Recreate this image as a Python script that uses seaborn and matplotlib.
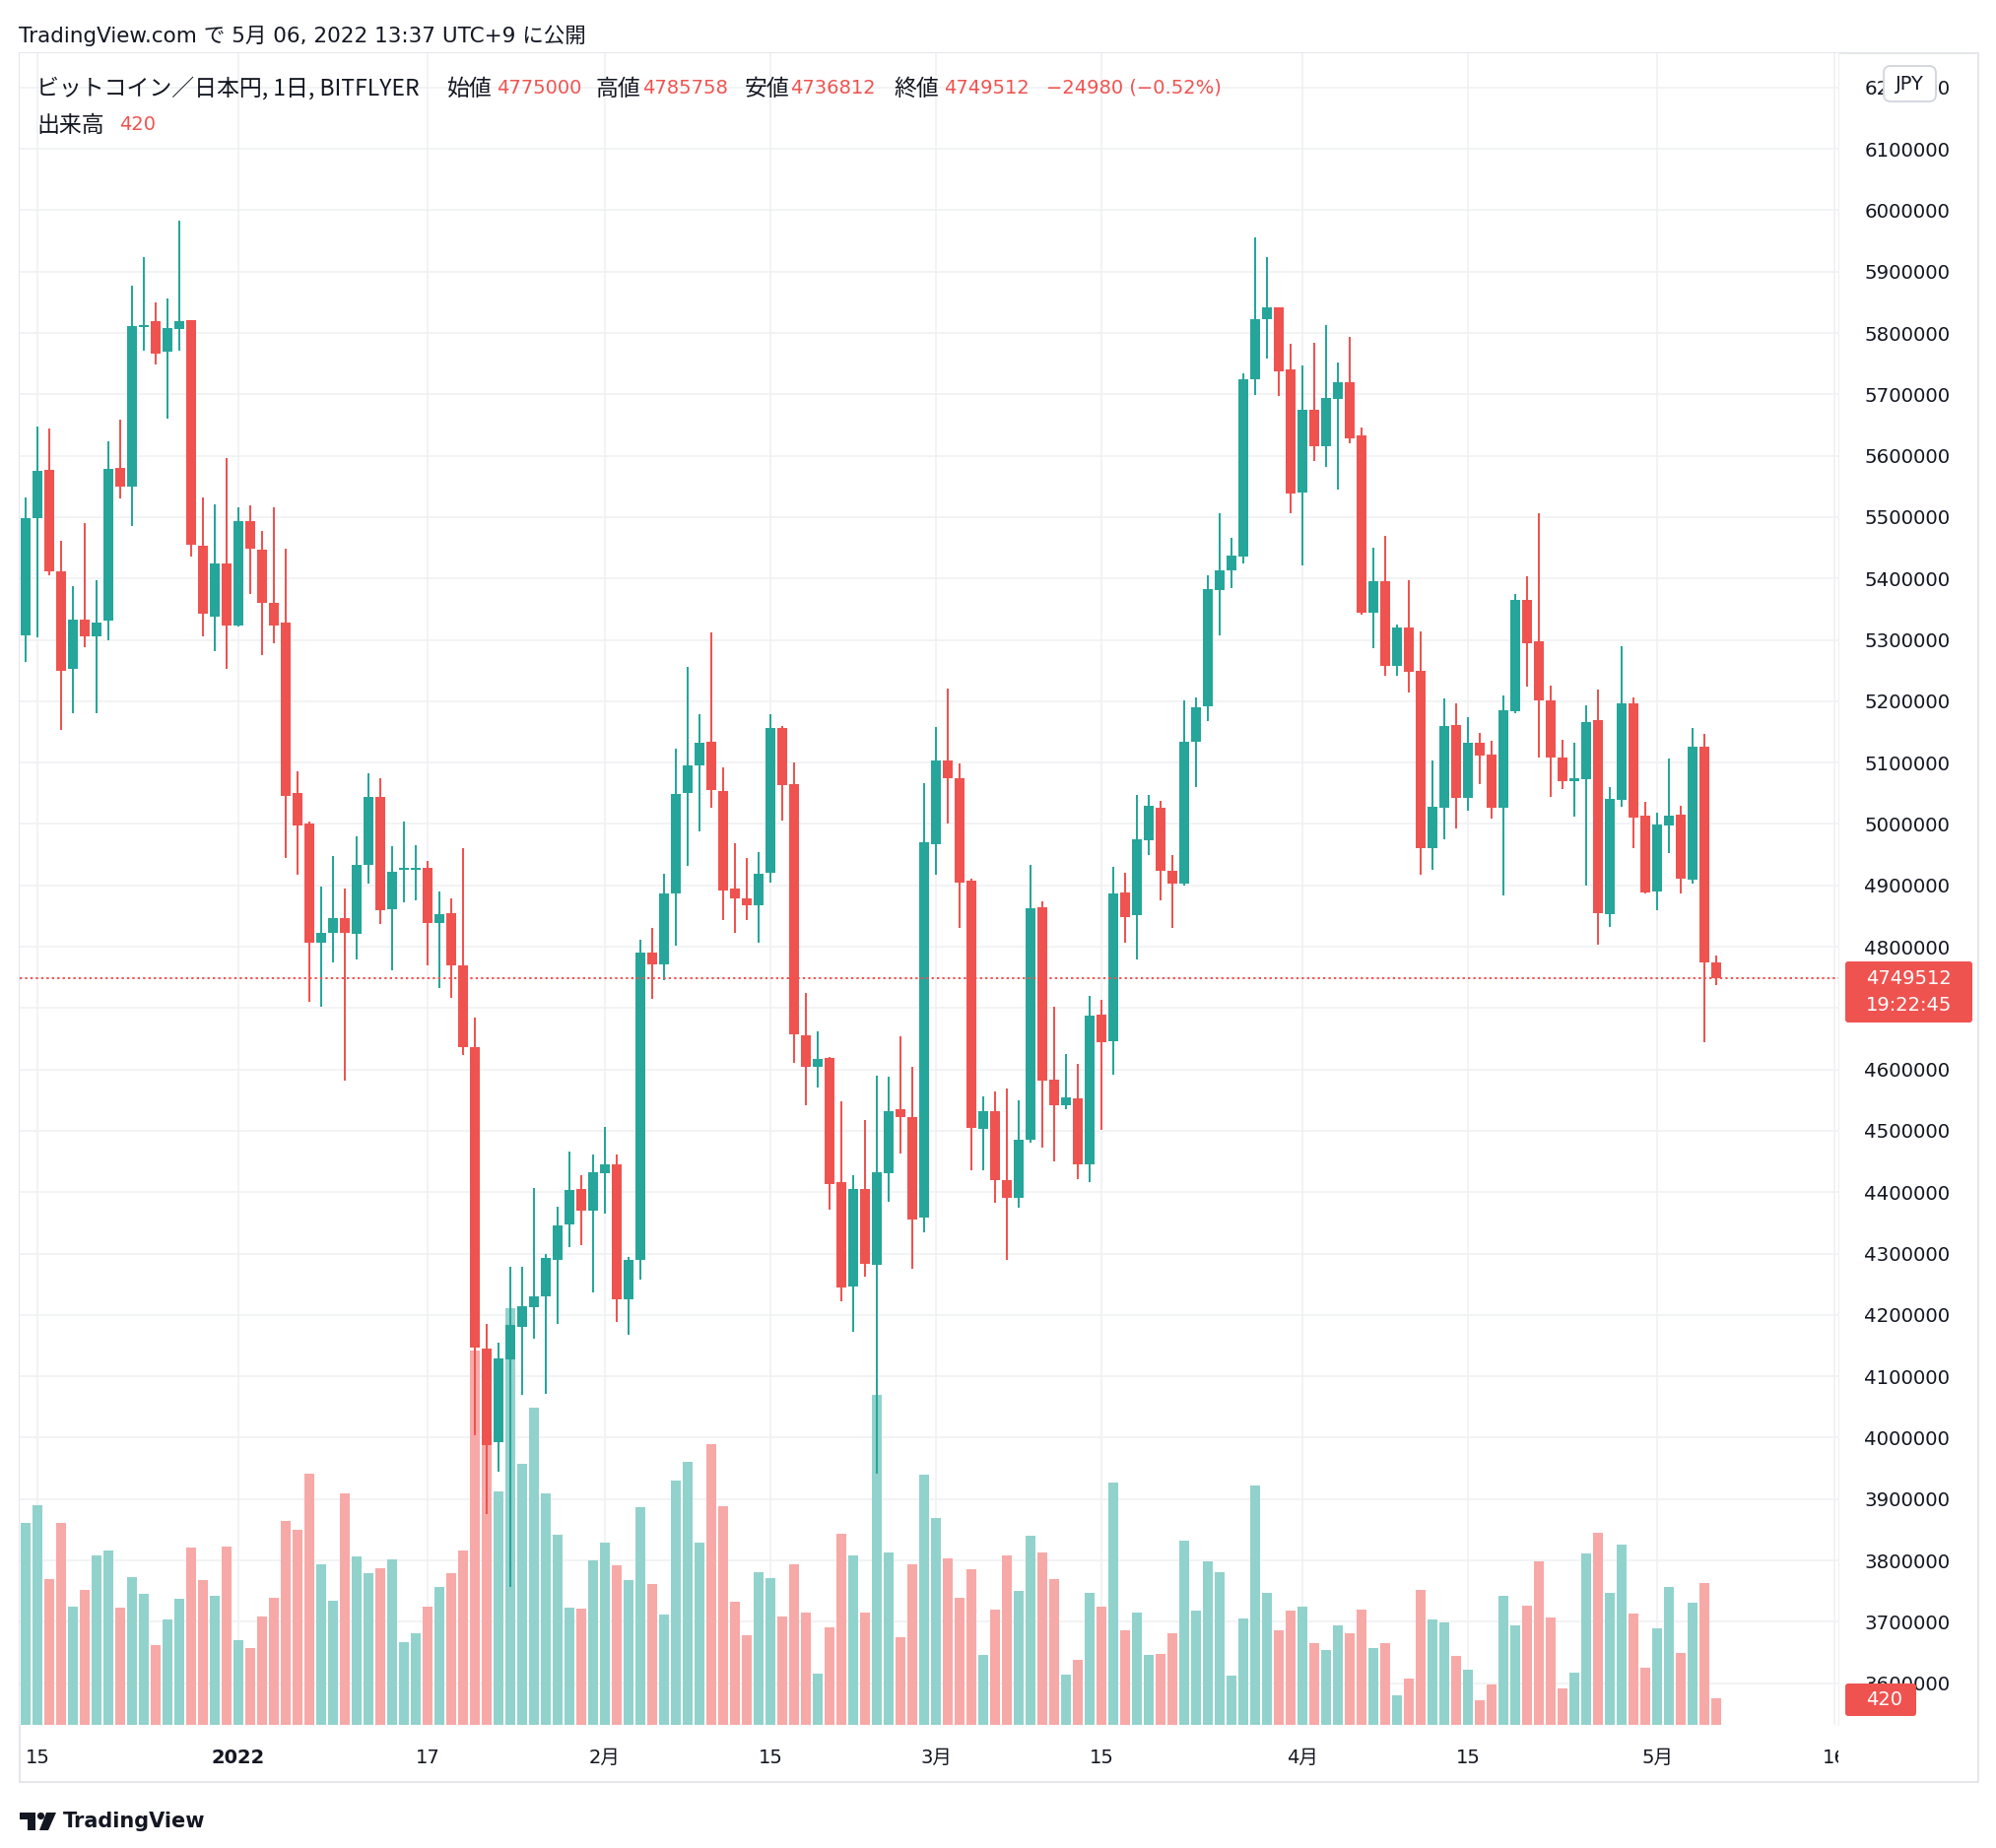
import numpy as np
import pandas as pd
import matplotlib
matplotlib.use("Agg")
import matplotlib.pyplot as plt
import seaborn as sns
from matplotlib.patches import FancyBboxPatch, Rectangle, Polygon, Circle
from matplotlib.transforms import Bbox, IdentityTransform, blended_transform_factory
from matplotlib.lines import Line2D

# ---------------- data (bitFlyer BTC/JPY daily, values in thousand JPY) ----------------
dates = pd.date_range("2021-12-14", "2022-05-06", freq="D")

open_k = [5308,5498,5577,5411,5252,5333,5305,5331,5580,5550,5810,5819,5769,5807,5821,5454,5338,5424,
          5324,5493,5447,5361,5328,5050,5000,4806,4822,4847,4821,4933,5044,4861,4925,4925,4929,4838,4855,4770,
          4637,4145,3992,4128,4181,4213,4230,4290,4347,4405,4370,
          4431,4445,4226,4289,4791,4772,4887,5050,5095,5134,5054,4894,4879,4868,4920,5157,5065,4656,4605,4619,
          4416,4247,4405,4282,4431,4535,4522,4359,
          4967,5104,5075,4908,4503,4532,4420,4391,4486,4864,4583,4542,4553,4446,4690,4646,4888,4852,4974,5026,
          4923,4903,5134,5191,5381,5413,5435,5724,5822,5842,5741,
          5540,5675,5616,5693,5720,5633,5344,5395,5258,5320,5249,4961,5027,5161,5042,5133,5113,5026,5184,5365,
          5297,5202,5109,5070,5073,5169,4853,5039,5196,5013,
          4890,4997,5015,4909,5126,4775.000]
high_k = [5532,5647,5644,5461,5387,5490,5397,5623,5659,5877,5923,5850,5856,5983,5821,5532,5521,5596,
          5516,5520,5477,5516,5448,5086,5004,4898,4947,4895,4980,5083,5075,4964,5004,4966,4940,4890,4879,4961,
          4684,4185,4155,4278,4278,4407,4299,4377,4466,4428,4461,
          4506,4461,4295,4812,4831,4919,5122,5256,5179,5312,5093,4968,4945,4954,5179,5159,5100,4724,4662,4620,
          4548,4428,4518,4590,4588,4654,4604,5066,
          5158,5220,5098,4911,4556,4564,4569,4549,4933,4874,4702,4625,4609,4720,4713,4930,4920,5047,5047,5037,
          4949,5201,5206,5405,5507,5466,5735,5956,5923,5842,5783,
          5747,5784,5813,5752,5794,5646,5450,5469,5325,5397,5314,5104,5204,5197,5174,5149,5135,5209,5375,5404,
          5506,5225,5137,5132,5193,5219,5060,5289,5207,5036,
          5019,5106,5029,5156,5147,4785.758]
low_k = [5264,5304,5406,5153,5181,5288,5181,5300,5531,5485,5772,5749,5660,5771,5435,5305,5281,5253,
         5322,5375,5276,5295,4944,4918,4711,4702,4774,4581,4780,4903,4837,4761,4872,4875,4770,4733,4716,4624,
         4004,3875,3944,3756,4070,4162,4072,4185,4310,4314,4236,
         4365,4189,4168,4258,4715,4746,4801,4932,4988,5026,4843,4823,4843,4806,4904,5005,4610,4541,4570,4372,
         4223,4172,4263,3942,4384,4463,4275,4334,
         4918,5000,4831,4435,4436,4383,4290,4374,4480,4473,4450,4536,4421,4417,4502,4592,4807,4780,4949,4876,
         4830,4899,5060,5168,5308,5385,5424,5699,5759,5697,5506,
         5421,5592,5582,5545,5620,5341,5287,5241,5241,5214,4917,4925,4975,4992,5021,5065,5008,4884,5181,5224,
         5109,5044,5057,5012,4900,4803,4832,5028,4961,4886,
         4859,4952,4887,4903,4644,4736.812]
close_k = [5498,5575,5411,5250,5333,5305,5328,5579,5550,5811,5813,5767,5808,5819,5455,5342,5424,5324,
           5493,5448,5361,5324,5046,4998,4806,4822,4847,4822,4933,5044,4860,4922,4927,4929,4838,4853,4769,4637,
           4146,3988,4129,4184,4214,4230,4293,4346,4403,4370,4432,
           4445,4225,4290,4791,4772,4886,5049,5095,5132,5055,4891,4878,4867,4919,5157,5064,4658,4605,4617,4414,
           4244,4405,4284,4432,4532,4523,4356,4970,
           5104,5074,4905,4504,4532,4420,4391,4485,4862,4582,4542,4555,4446,4688,4645,4887,4849,4975,5030,4923,
           4903,5134,5190,5382,5414,5437,5724,5823,5842,5738,5539,
           5675,5616,5694,5720,5629,5344,5395,5258,5320,5248,4961,5028,5160,5042,5133,5111,5026,5185,5365,5294,
           5201,5108,5070,5074,5166,4855,5041,5196,5011,4889,
           4999,5013,4911,5126,4774,4749.512]
volume = [3189,3469,2302,3189,1867,2131,2675,2753,1851,2333,2069,1260,1664,1991,2800,2287,2038,2815,
          1338,1213,1711,2007,3220,3080,3967,2535,1960,3655,2660,2395,2473,2613,1307,1447,1867,2178,2395,2753,
          5911,5444,3687,6580,4122,5009,3655,3002,1851,1835,2598,
          2878,2520,2287,3438,2224,1742,3858,4153,2878,4433,3453,1944,1416,2411,2318,1711,2535,1773,809,1540,
          3018,2675,1773,5211,2722,1384,2535,3951,
          3267,2629,2007,2458,1104,1820,2675,2115,2987,2722,2302,793,1027,2084,1867,3827,1493,1773,1104,1120,
          1447,2909,1804,2582,2411,778,1680,3780,2084,1493,1804,
          1867,1291,1182,1571,1447,1820,1213,1291,467,731,2131,1664,1618,1089,871,389,638,2038,1571,1882,
          2582,1695,576,824,2707,3033,2084,2847,1758,902,
          1524,2178,1136,1929,2240,420]

xtick_dates = ["2021-12-15", "2022-01-01", "2022-01-17", "2022-02-01", "2022-02-15", "2022-03-01",
               "2022-03-15", "2022-04-01", "2022-04-15", "2022-05-01", "2022-05-16"]
xtick_labels = ["15", "2022", "17", "2月", "15", "3月", "15", "4月", "15", "5月", "16"]
price_ticks = list(range(3600000, 6300000, 100000))
last_price = 4749512
last_volume = 420
countdown = "19:22:45"

# ---------------- style ----------------
sns.set_theme(style="white")
plt.rcParams["font.family"] = ["DejaVu Sans", "Noto Sans CJK JP"]
CJK = ["Noto Sans CJK JP", "DejaVu Sans"]

UP = "#26a69a"
DOWN = "#ef5350"
UP_VOL = "#92d2cc"
DOWN_VOL = "#f7a9a7"
TXT = "#131722"
GRID = "#eff0f2"

W, H = 2026, 1876
fig = plt.figure(figsize=(W / 100, H / 100), dpi=100)
fig.patch.set_facecolor("white")
PX = IdentityTransform()


def Y(y):
    return H - y


# plot rectangle in pixels (top-based)
PL, PR, PT, PB = 20, 1866, 54, 1751
rect = [PL / W, 1 - PB / H, (PR - PL) / W, (PB - PT) / H]

o = np.array(open_k) * 1000
h = np.array(high_k) * 1000
l = np.array(low_k) * 1000
c = np.array(close_k) * 1000
day = (dates - dates[0]).days.values
up = c >= o
tick_pos = (pd.to_datetime(xtick_dates) - dates[0]).days.values

XLIM = (-0.5, 153.33)
YLIM = (3532000, 6256000)

# volume axes (bottom layer, also carries the grid)
axv = fig.add_axes(rect)
axv.set_zorder(1)
ax = fig.add_axes(rect)
ax.set_zorder(2)
ax.patch.set_visible(False)
ax.set_xlim(*XLIM)
ax.set_ylim(*YLIM)

vol_df = pd.DataFrame({"day": day, "volume": volume, "dir": np.where(up, "up", "down")})
sns.barplot(data=vol_df, x="day", y="volume", hue="dir", native_scale=True, dodge=False,
            palette={"up": UP_VOL, "down": DOWN_VOL}, width=0.8, saturation=1, errorbar=None,
            linewidth=0, legend=False, ax=axv, zorder=3)
axv.set_xlim(*XLIM)
axv.set_ylim(0, 26400)
axv.set_xlabel("")
axv.set_ylabel("")
axv.set_xticks([])
axv.set_yticks([])
for s in axv.spines.values():
    s.set_visible(False)

# grid lines (drawn under the volume bars)
for p in price_ticks:
    axv.add_line(Line2D([0, 1], [p, p], transform=ax.get_yaxis_transform(), color=GRID, lw=1.1, zorder=0))
for t in tick_pos:
    axv.axvline(t, color=GRID, lw=1.1, zorder=0)

# candles
ax.vlines(day, l, h, colors=np.where(up, UP, DOWN), lw=1.45, zorder=3)
body = np.maximum(np.abs(c - o), 3000)
ax.bar(day, body, bottom=np.minimum(o, c), width=0.83, color=np.where(up, UP, DOWN), linewidth=0, zorder=4)
ax.axhline(last_price, color=DOWN, lw=1.4, linestyle=(0, (1.2, 1.6)), zorder=5)

# axes decoration
for s in ax.spines.values():
    s.set_visible(False)
ax.yaxis.tick_right()
ax.set_yticks(price_ticks)
ax.set_yticklabels([str(p) for p in price_ticks])
ax.tick_params(axis="y", length=0, pad=19, labelsize=14.2, labelcolor=TXT)
ax.set_xticks([])
ax.grid(False)

# x labels (clipped at the price-scale edge)
xtr = blended_transform_factory(ax.transData, PX)
clipbox = Bbox([[0, 0], [PR, H]])
for pos, lab in zip(tick_pos, xtick_labels):
    t = fig.text(pos, Y(1784), lab, transform=xtr, ha="center", va="center", fontsize=14, color=TXT,
                 fontweight="bold" if lab == "2022" else "normal")
    t.set_clip_on(True)
    t.set_clip_box(clipbox)

# frame and separator
fig.add_artist(Rectangle((PL, Y(1809)), 2008 - PL, 1809 - PT, transform=PX, fill=False,
                         edgecolor="#e4e6eb", lw=1.4, zorder=1))
fig.add_artist(Line2D([PR, PR], [Y(PT), Y(PB)], transform=PX, color="#eeeff2", lw=1.4, zorder=1))

# header
fig.text(19, Y(36), "TradingView.com で 5月 06, 2022 13:37 UTC+9 に公開", transform=PX,
         fontsize=15.5, color=TXT, va="center", ha="left")

# legend
row1_labels = [(37, "ビットコイン／日本円, 1日, BITFLYER"), (454, "始値"), (605, "高値"), (756, "安値"), (907, "終値")]
row1_values = [(504, "4775000"), (652, "4785758"), (802, "4736812"), (958, "4749512"), (1062, "−24980 (−0.52%)")]
for x, s in row1_labels:
    fig.text(x, Y(90), s, transform=PX, fontsize=16.5, color=TXT, va="center", ha="left", family=CJK)
for x, s in row1_values:
    fig.text(x, Y(89), s, transform=PX, fontsize=14, color=DOWN, va="center", ha="left")
fig.text(37, Y(127), "出来高", transform=PX, fontsize=16.5, color=TXT, va="center", ha="left", family=CJK)
fig.text(121, Y(126), str(last_volume), transform=PX, fontsize=14, color=DOWN, va="center", ha="left")

# JPY button
fig.add_artist(FancyBboxPatch((1912, Y(103)), 53, 36, boxstyle="round,pad=0,rounding_size=7",
                              transform=PX, facecolor="white", edgecolor="#d1d4dc", lw=1.3, zorder=5))
fig.text(1938.5, Y(85), "JPY", transform=PX, fontsize=14, color=TXT, ha="center", va="center", zorder=6)

# last price tag
fig.add_artist(FancyBboxPatch((1873, Y(1038)), 129, 62, boxstyle="round,pad=0,rounding_size=3",
                              transform=PX, facecolor=DOWN, edgecolor="none", zorder=5))
fig.text(1894, Y(993), str(last_price), transform=PX, fontsize=14, color="white", ha="left", va="center", zorder=6)
fig.text(1894, Y(1020), countdown, transform=PX, fontsize=14, color="white", ha="left", va="center", zorder=6)

# volume tag
fig.add_artist(FancyBboxPatch((1873, Y(1742)), 72, 33, boxstyle="round,pad=0,rounding_size=3",
                              transform=PX, facecolor=DOWN, edgecolor="none", zorder=5))
fig.text(1894, Y(1725), str(last_volume), transform=PX, fontsize=14, color="white", ha="left", va="center", zorder=6)

# TradingView logo
fig.add_artist(Polygon([(20, Y(1840)), (36, Y(1840)), (36, Y(1858)), (28, Y(1858)), (28, Y(1847)), (20, Y(1847))],
                       closed=True, transform=PX, facecolor=TXT, edgecolor="none"))
fig.add_artist(Circle((41.5, Y(1843.5)), 3.6, transform=PX, facecolor=TXT, edgecolor="none"))
fig.add_artist(Polygon([(47, Y(1840)), (57, Y(1840)), (49, Y(1858)), (40, Y(1858))],
                       closed=True, transform=PX, facecolor=TXT, edgecolor="none"))
fig.text(64, Y(1849), "TradingView", transform=PX, fontsize=15, color=TXT, ha="left", va="center",
         fontweight="semibold")

fig.savefig("out.png", dpi=100, facecolor="white")
